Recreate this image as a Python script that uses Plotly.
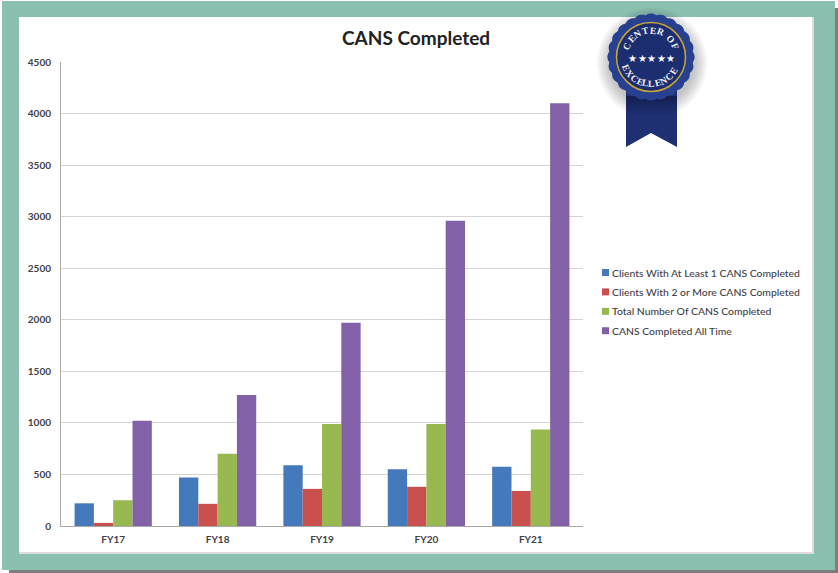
import math
import plotly.graph_objects as go

W, H = 838, 573
categories = ["FY17", "FY18", "FY19", "FY20", "FY21"]
clients_1 = [220, 470, 590, 550, 575]
clients_2 = [30, 215, 360, 380, 340]
total_cans = [250, 700, 990, 990, 935]
all_time = [1020, 1270, 1970, 2960, 4100]
series_names = ["Clients With At Least 1 CANS Completed", "Clients With 2 or More CANS Completed",
                "Total Number Of CANS Completed", "CANS Completed All Time"]
series_colors = ["#4479bb", "#c9504d", "#97b94f", "#8261a8"]
tick_values = [0, 500, 1000, 1500, 2000, 2500, 3000, 3500, 4000, 4500]
FONT = "Lato"
TXT = "#3f4147"

def px(x): return x / W
def py(y): return 1 - y / H

def rect(x0, y0, x1, y1, color, opacity=1, layer="below"):
    return dict(type="rect", xref="paper", yref="paper", x0=px(x0), x1=px(x1), y0=py(y0), y1=py(y1),
                fillcolor=color, opacity=opacity, line_width=0, layer=layer)

def poly(points, color, opacity=1):
    d = "M " + " L ".join(f"{px(a):.5f},{py(b):.5f}" for a, b in points) + " Z"
    return dict(type="path", xref="paper", yref="paper", path=d, fillcolor=color, opacity=opacity,
                line_width=0, layer="above")

def circle(cx, cy, r, color, opacity=1, line=None):
    return dict(type="circle", xref="paper", yref="paper", x0=px(cx - r), x1=px(cx + r), y0=py(cy + r), y1=py(cy - r),
                fillcolor=color, opacity=opacity, line=dict(color=line or color, width=1.5 if line else 0), layer="above")

def label(text, x, y, size, family=FONT, color=TXT, xanchor="center", weight="normal", angle=0):
    return dict(text=text, x=px(x), y=py(y), xref="paper", yref="paper", xanchor=xanchor, yanchor="middle",
                showarrow=False, textangle=angle, borderpad=0,
                font=dict(family=family, size=size, color=color, weight=weight))

fig = go.Figure()
for name, vals, col in zip(series_names, [clients_1, clients_2, total_cans, all_time], series_colors):
    fig.add_trace(go.Bar(x=categories, y=vals, name=name, marker=dict(color=col, line_width=0), showlegend=False))

shapes = [
    rect(9, 8, 838, 573, "#6f6f6f", 0.9),
    rect(2, 1, 835, 570, "#8bbfb0"),
    rect(19, 17, 814, 554, "#dcdcdc"),
    rect(19, 17, 812, 552, "#ffffff"),
]
# badge
BX, BY = 651, 57
for r in range(55, 42, -2):
    shapes.append(circle(BX + 1, BY + 6, r, "#222222", 0.04))
shapes.append(poly([(626, 90), (677, 90), (677, 147), (651, 133), (626, 147)], "#1e3072"))
for i, op in enumerate([0.5, 0.4, 0.3, 0.22, 0.14, 0.07]):
    shapes.append(poly([(626, 96 + i * 3), (677, 96 + i * 3), (677, 99 + i * 3), (626, 99 + i * 3)], "#0b1030", op))
scallop = []
for i in range(360):
    a = math.radians(i)
    r = 42 + 1.6 * abs(math.cos(a * 12))
    scallop.append((BX + r * math.sin(a), BY - r * math.cos(a)))
shapes.append(poly(scallop, "#27408f"))
shapes.append(circle(BX, BY, 34.5, "#1c2e70", 1, "#c9a63a"))

ann = [label("CANS Completed", 416, 37, 19, color="#222222", weight="bold")]
for i in range(5):
    ann.append(label("★", 632.5 + i * 9.5, 58, 10, family="DejaVu Sans", color="#ffffff"))

def arc(chars, degs, radius, bottom=False):
    for ch, deg in zip(chars, degs):
        a = math.radians(deg)
        ann.append(label(ch, BX + radius * math.sin(a), BY - radius * math.cos(a), 9.5,
                         family="Liberation Serif", color="#f2f2f2", weight="bold",
                         angle=(deg + 180 if bottom else deg)))
arc("CENTEROF", [-65, -47, -30, -13, 4, 21, 47, 67], 26.5)
arc("EXCELLENCE", [247, 232, 217, 204, 192, 179, 166, 152, 138, 122], 27, bottom=True)

# legend entries
for i, (name, col) in enumerate(zip(series_names, series_colors)):
    yy = 272.5 + i * 19.4
    shapes.append(rect(602, yy - 3.5, 609, yy + 3.5, col, layer="above"))
    ann.append(label(name, 611, yy, 10.4, xanchor="left", weight=500))

fig.update_layout(
    width=W, height=H, autosize=False,
    margin=dict(l=0, r=0, t=0, b=0, autoexpand=False),
    paper_bgcolor="#ffffff", plot_bgcolor="rgba(0,0,0,0)",
    barmode="group", bargap=0.26, bargroupgap=0,
    showlegend=False,
    shapes=shapes,
    annotations=ann,
    font=dict(family=FONT, size=10, color=TXT),
    xaxis=dict(domain=[px(61), px(583)], showline=True, linecolor="#a8a8a8", linewidth=1, ticks="",
               tickfont=dict(family=FONT, size=10, color=TXT, weight="bold"), showgrid=False, ticklabelstandoff=4),
    yaxis=dict(domain=[py(526), py(62)], range=[0, 4500], tickvals=tick_values, showline=True,
               linecolor="#a8a8a8", linewidth=1, gridcolor="#d4d4d4", gridwidth=1, ticks="", zeroline=False,
               tickfont=dict(family=FONT, size=10, color=TXT, weight="bold"), ticklabelstandoff=7),
)
fig.write_html("out.html", post_script="document.body.style.margin='0';document.body.style.overflow='hidden';",
               config=dict(displayModeBar=False))
